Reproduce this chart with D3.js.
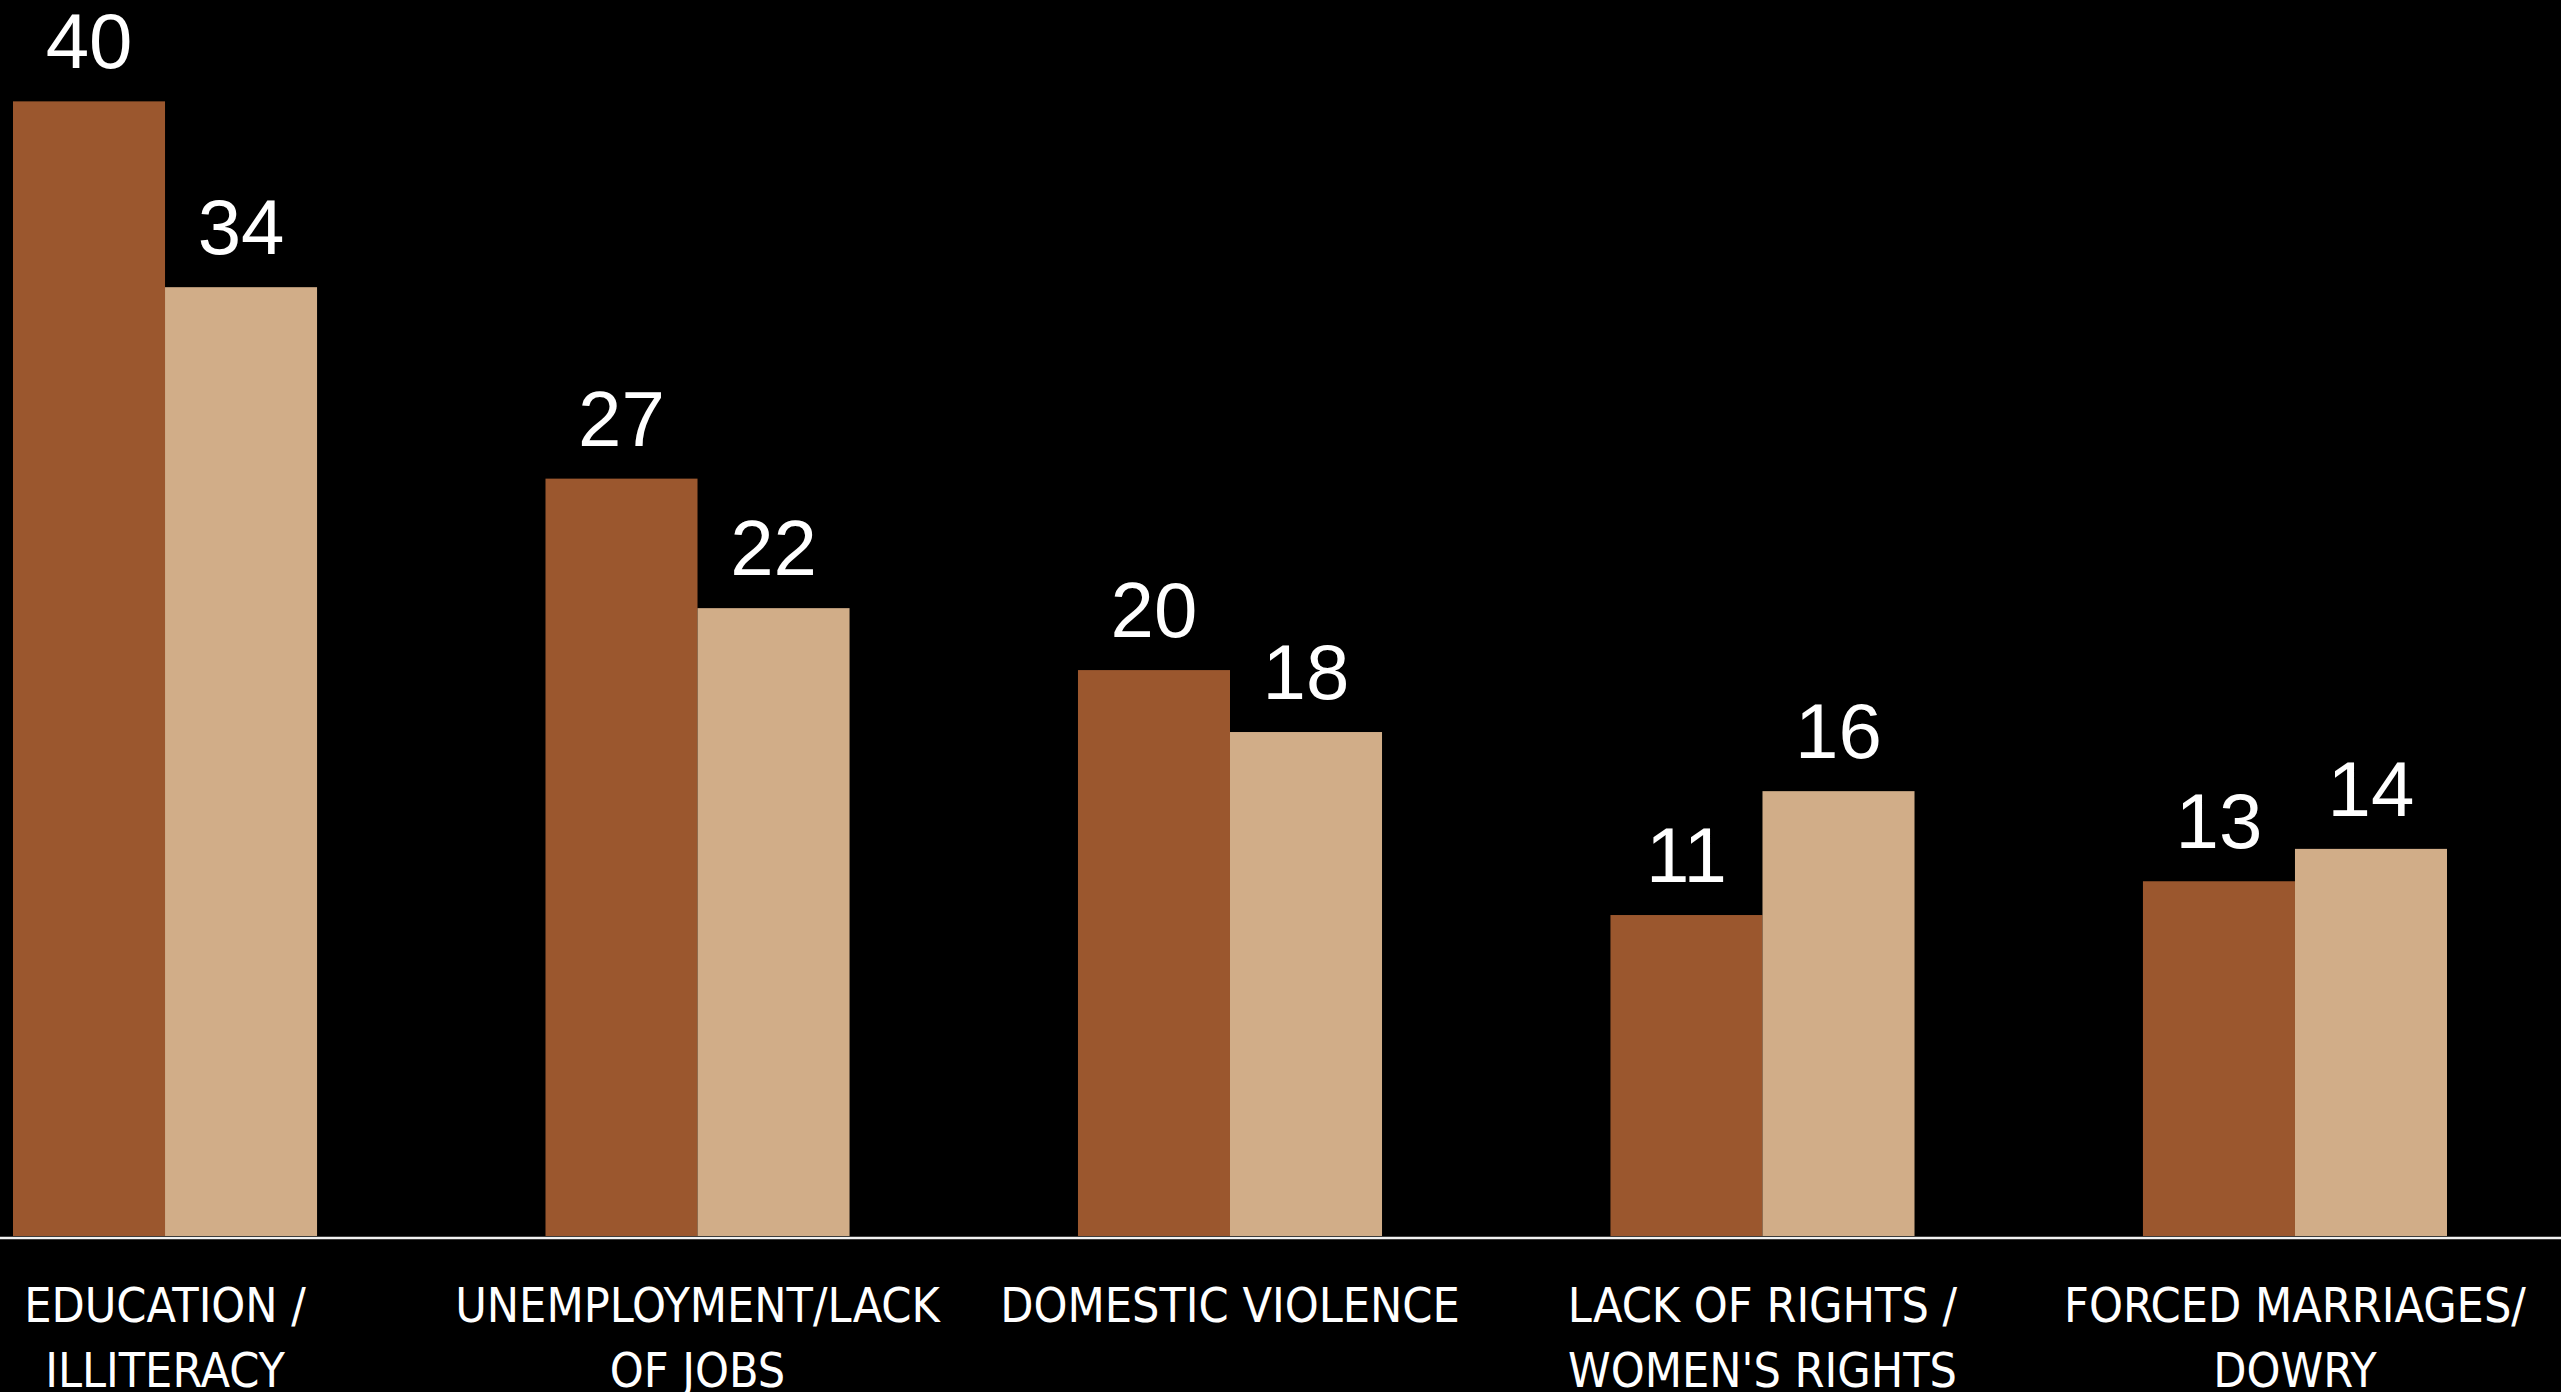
<!DOCTYPE html>
<html>
<head>
<meta charset="utf-8">
<script src="https://cdn.jsdelivr.net/npm/d3@7"></script>
<style>
  html, body { margin: 0; padding: 0; background: #000; overflow: hidden; }
  svg { display: block; }
</style>
</head>
<body>
<svg id="chart" width="2561" height="1392"></svg>
<script>
// ---- data ----
const categories = [
  ["EDUCATION /", "ILLITERACY"],
  ["UNEMPLOYMENT/LACK", "OF JOBS"],
  ["DOMESTIC VIOLENCE"],
  ["LACK OF RIGHTS /", "WOMEN'S RIGHTS"],
  ["FORCED MARRIAGES/", "DOWRY"]
];
const seriesNames = ["Series A", "Series B"];
const seriesA = [40.3, 26.9, 20.1, 11.4, 12.6];
const seriesB = [33.7, 22.3, 17.9, 15.8, 13.75];
const seriesColors = ["#9b572e", "#d1ad88"];

// ---- layout ----
const W = 2561, H = 1392;
const baseY = 1236;
const svg = d3.select("#chart");
svg.append("rect").attr("width", W).attr("height", H).attr("fill", "#000");

const catKeys = categories.map((c, i) => "c" + i);
const x0 = d3.scaleBand().domain(catKeys).range([13, 2447]).paddingInner(0.429).paddingOuter(0);
const x1 = d3.scaleBand().domain(seriesNames).range([0, x0.bandwidth()]).padding(0);
const y = d3.scaleLinear().domain([0, 43.9]).range([baseY, 0]);

const rows = catKeys.map((k, i) => ({ key: k, vals: [seriesA[i], seriesB[i]] }));

const g = svg.append("g");
const groups = g.selectAll("g.grp").data(rows).join("g")
  .attr("class", "grp")
  .attr("transform", d => `translate(${x0(d.key)},0)`);

groups.selectAll("rect").data(d => d.vals.map((v, j) => ({ v, s: seriesNames[j], j })))
  .join("rect")
  .attr("x", d => x1(d.s))
  .attr("y", d => y(d.v))
  .attr("width", x1.bandwidth())
  .attr("height", d => baseY - y(d.v))
  .attr("fill", d => seriesColors[d.j]);

groups.selectAll("text.val").data(d => d.vals.map((v, j) => ({ v, s: seriesNames[j] })))
  .join("text")
  .attr("class", "val")
  .attr("x", d => x1(d.s) + x1.bandwidth() / 2)
  .attr("y", d => y(d.v) - 33)
  .attr("text-anchor", "middle")
  .attr("fill", "#fff")
  .style("font-family", "'Liberation Sans', Arial, sans-serif")
  .style("font-size", "78px")
  .text(d => d3.format(".0f")(d.v));

// axis line
const xAxis = d3.axisBottom(x0).tickSize(0).tickFormat("");
const axisG = svg.append("g").attr("transform", `translate(0,${baseY + 2})`).call(xAxis);
axisG.select(".domain").remove();
axisG.append("line").attr("x1", 0).attr("x2", W).attr("y1", 0).attr("y2", 0)
  .attr("stroke", "#f2f2f2").attr("stroke-width", 2.6);

// category labels
const labelG = svg.append("g");
rows.forEach((d, i) => {
  const cx = x0(d.key) + x0.bandwidth() / 2;
  const t = labelG.append("text")
    .attr("x", cx)
    .attr("y", 1322)
    .attr("text-anchor", "middle")
    .attr("fill", "#fff")
    .style("font-family", "'Liberation Sans Narrow', 'Arial Narrow', 'DejaVu Sans Condensed', sans-serif")
    .style("font-size", "48px");
  categories[i].forEach((line, li) => {
    t.append("tspan").attr("x", cx).attr("dy", li === 0 ? 0 : 65).text(line);
  });
});
</script>
</body>
</html>
